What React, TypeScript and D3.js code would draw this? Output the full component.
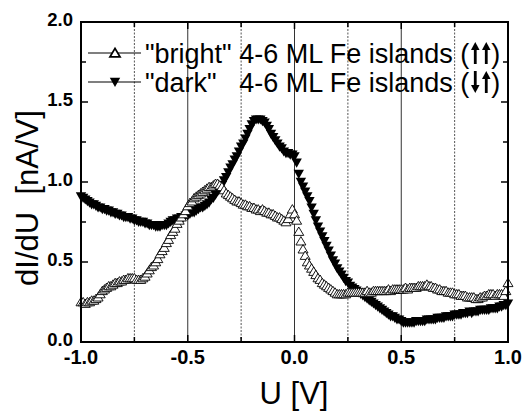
import React from "react";
import * as d3 from "d3";

const U_START = -1.0;
const U_STEP = 0.01;

const bright = [
  0.25,0.25,0.24,0.25,0.25,0.26,0.26,0.27,0.28,0.30,0.32,
  0.33,0.34,0.35,0.35,0.36,0.37,0.37,0.38,0.38,0.39,
  0.39,0.40,0.40,0.40,0.40,0.39,0.39,0.39,0.40,0.41,
  0.43,0.45,0.47,0.48,0.50,0.52,0.55,0.57,0.59,0.62,
  0.64,0.67,0.69,0.71,0.74,0.76,0.78,0.80,0.82,0.85,
  0.87,0.88,0.90,0.91,0.92,0.93,0.94,0.95,0.96,0.97,
  0.97,0.98,0.99,0.99,0.98,0.97,0.95,0.93,0.92,0.91,
  0.90,0.89,0.88,0.88,0.87,0.86,0.86,0.85,0.85,0.84,
  0.84,0.83,0.83,0.82,0.83,0.82,0.81,0.81,0.80,0.80,
  0.79,0.78,0.78,0.77,0.76,0.75,0.77,0.80,0.83,0.80,
  0.76,0.69,0.63,0.58,0.54,0.50,0.48,0.46,0.44,0.42,
  0.40,0.39,0.37,0.36,0.35,0.34,0.33,0.32,0.31,0.30,
  0.30,0.30,0.30,0.30,0.31,0.31,0.31,0.31,0.31,0.31,
  0.31,0.31,0.31,0.32,0.31,0.31,0.32,0.32,0.32,0.32,
  0.32,0.32,0.32,0.33,0.32,0.33,0.33,0.33,0.33,0.33,
  0.33,0.34,0.33,0.34,0.34,0.34,0.34,0.35,0.35,0.35,
  0.35,0.36,0.35,0.35,0.34,0.34,0.33,0.33,0.32,0.32,
  0.32,0.31,0.31,0.31,0.30,0.30,0.30,0.29,0.29,0.29,
  0.28,0.28,0.28,0.28,0.27,0.27,0.28,0.28,0.29,0.29,
  0.30,0.30,0.30,0.29,0.30,0.30,0.30,0.29,0.32,0.37,
];

const dark = [
  0.91,0.90,0.89,0.88,0.87,0.86,0.86,0.85,0.84,0.84,0.83,
  0.83,0.82,0.82,0.81,0.81,0.80,0.80,0.79,0.79,0.78,
  0.78,0.78,0.77,0.77,0.76,0.76,0.75,0.75,0.75,0.74,
  0.74,0.73,0.73,0.73,0.72,0.72,0.72,0.73,0.73,0.73,
  0.74,0.75,0.76,0.76,0.77,0.77,0.78,0.78,0.79,0.79,
  0.80,0.81,0.81,0.82,0.83,0.84,0.84,0.85,0.86,0.87,
  0.89,0.90,0.92,0.94,0.96,0.98,1.01,1.03,1.06,1.09,
  1.11,1.14,1.16,1.19,1.22,1.24,1.27,1.30,1.33,1.36,
  1.38,1.39,1.39,1.39,1.38,1.37,1.35,1.33,1.30,1.28,
  1.26,1.24,1.22,1.21,1.19,1.18,1.18,1.17,1.17,1.16,
  1.12,1.05,1.00,0.97,0.94,0.91,0.88,0.84,0.80,0.76,
  0.72,0.69,0.66,0.63,0.60,0.57,0.54,0.51,0.49,0.46,
  0.44,0.42,0.40,0.38,0.37,0.35,0.34,0.33,0.32,0.31,
  0.30,0.29,0.28,0.27,0.26,0.25,0.24,0.23,0.22,0.21,
  0.20,0.19,0.18,0.17,0.16,0.16,0.15,0.14,0.14,0.13,
  0.12,0.12,0.12,0.12,0.12,0.12,0.13,0.13,0.13,0.13,
  0.13,0.14,0.14,0.14,0.14,0.14,0.15,0.15,0.15,0.15,
  0.16,0.16,0.16,0.16,0.17,0.17,0.17,0.17,0.18,0.18,
  0.18,0.19,0.18,0.19,0.19,0.19,0.20,0.20,0.20,0.20,
  0.20,0.21,0.21,0.21,0.21,0.22,0.22,0.23,0.23,0.24,
];

const xTicks = [-1.0, -0.5, 0.0, 0.5, 1.0];
const yTicks = [0.0, 0.5, 1.0, 1.5, 2.0];
const minorStep = 0.25;
const solidGrid = [-0.5, 0.0, 0.5];
const dottedGrid = [-0.75, -0.25, 0.25, 0.75];

const legendRows = [
  { label: '"bright"', kind: "bright", arrows: ["up", "up"] },
  { label: '"dark"', kind: "dark", arrows: ["down", "up"] },
];

const W = 528, H = 412;
const L = 81, R = 508, T = 22, B = 342;

const font = "'Liberation Sans', Arial, Helvetica, sans-serif";
const LFS = 27;

const upTri = "M0,-4.6 L5,3.8 L-5,3.8 Z";
const downTri = "M0,5 L5.2,-4.2 L-5.2,-4.2 Z";

function Arrow({ x, y, dir }: { x: number; y: number; dir: string }) {
  const h = 11;
  const tip = dir === "up" ? y - h : y + h;
  const tail = dir === "up" ? y + h : y - h;
  const headLen = 8;
  const base = dir === "up" ? tip + headLen : tip - headLen;
  return (
    <g>
      <line x1={x} x2={x} y1={tail} y2={base} stroke="#000" strokeWidth={2.8} />
      <path d={`M${x},${tip} L${x + 4.3},${base} L${x - 4.3},${base} Z`} fill="#000" />
    </g>
  );
}

export default function App() {
  const x = d3.scaleLinear().domain([-1, 1]).range([L, R]);
  const y = d3.scaleLinear().domain([0, 2]).range([B, T]);
  const uOf = (i: number) => U_START + i * U_STEP;
  const minorX = d3.range(-1, 1.0001, minorStep);
  const minorY = d3.range(0, 2.0001, minorStep);

  const textX = 145;
  const fourX = textX + 3.489 * LFS;
  const parenX = textX + 11.714 * LFS;
  const arrow1 = parenX + 0.333 * LFS + 5;
  const arrow2 = arrow1 + 11;
  const closeX = arrow2 + 5;

  return (
    <svg width={W} height={H} style={{ position: "absolute", left: 0, top: 0, background: "#fff" }}>
      <rect x={0} y={0} width={W} height={H} fill="#fff" />
      {solidGrid.map((g) => (
        <line key={"s" + g} x1={x(g)} x2={x(g)} y1={T} y2={B} stroke="#333" strokeWidth={1} />
      ))}
      {dottedGrid.map((g) => (
        <line key={"d" + g} x1={x(g)} x2={x(g)} y1={T} y2={B} stroke="#555" strokeWidth={1} strokeDasharray="2,1.5" />
      ))}
      {minorY.map((v, i) => {
        const len = i % 2 === 0 ? 7 : 5;
        return (
          <g key={"yt" + v}>
            <line x1={L} x2={L + len} y1={y(v)} y2={y(v)} stroke="#000" strokeWidth={1.5} />
            <line x1={R} x2={R - len} y1={y(v)} y2={y(v)} stroke="#000" strokeWidth={1.5} />
          </g>
        );
      })}
      {minorX.map((v, i) => {
        const len = i % 2 === 0 ? 7 : 5;
        return (
          <g key={"xt" + v}>
            <line x1={x(v)} x2={x(v)} y1={B} y2={B - len} stroke="#000" strokeWidth={1.5} />
            <line x1={x(v)} x2={x(v)} y1={T} y2={T + len} stroke="#000" strokeWidth={1.5} />
          </g>
        );
      })}
      <g>
        {dark.map((v, i) => (
          <path key={"dk" + i} d={downTri} transform={`translate(${x(uOf(i))},${y(v)})`} fill="#000" />
        ))}
      </g>
      <g>
        {bright.map((v, i) => (
          <path key={"br" + i} d={upTri} transform={`translate(${x(uOf(i))},${y(v)})`} fill="#fff" stroke="#000" strokeWidth={0.9} />
        ))}
      </g>
      <rect x={L} y={T} width={R - L} height={B - T} fill="none" stroke="#000" strokeWidth={2} />
      {yTicks.map((v) => (
        <text key={"yl" + v} x={L - 8} y={y(v) - 2} dy="0.35em" textAnchor="end" fontFamily={font} fontWeight="bold" fontSize={18.5}>
          {v.toFixed(1)}
        </text>
      ))}
      {xTicks.map((v) => (
        <text key={"xl" + v} x={x(v)} y={364} textAnchor="middle" fontFamily={font} fontWeight="bold" fontSize={20}>
          {v.toFixed(1)}
        </text>
      ))}
      <text x={294} y={404} textAnchor="middle" fontFamily={font} fontSize={31}>U [V]</text>
      <text transform="translate(38,198) rotate(-90)" textAnchor="middle" fontFamily={font} fontSize={31} style={{ whiteSpace: "pre" }}>
        {"dI/dU  [nA/V]"}
      </text>
      {legendRows.map((row, r) => {
        const cy = 53 + r * 29;
        const base = cy + 9.5;
        return (
          <g key={"lg" + r}>
            <line x1={88} x2={141} y1={cy} y2={cy} stroke="#000" strokeWidth={1.2} />
            {row.kind === "bright" ? (
              <path d={upTri} transform={`translate(115,${cy})`} fill="#fff" stroke="#000" strokeWidth={1.8} />
            ) : (
              <path d={downTri} transform={`translate(115,${cy})`} fill="#000" />
            )}
            <text x={textX} y={base} fontFamily={font} fontSize={LFS}>{row.label}</text>
            <text x={fourX} y={base} fontFamily={font} fontSize={LFS}>{"4-6 ML Fe islands ("}</text>
            <Arrow x={arrow1} y={cy} dir={row.arrows[0]} />
            <Arrow x={arrow2} y={cy} dir={row.arrows[1]} />
            <text x={closeX} y={base} fontFamily={font} fontSize={LFS}>)</text>
          </g>
        );
      })}
    </svg>
  );
}
